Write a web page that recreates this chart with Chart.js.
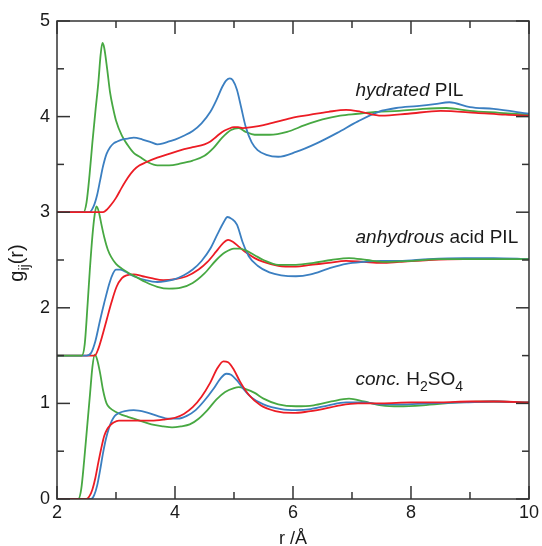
<!DOCTYPE html>
<html>
<head>
<meta charset="utf-8">
<script src="https://cdn.jsdelivr.net/npm/chart.js@4.4.0/dist/chart.umd.min.js"></script>
<style>
  html, body { margin: 0; padding: 0; background: #fff; }
  #wrap { width: 542px; height: 546px; }
</style>
</head>
<body>
<div id="wrap"><canvas id="chart" width="542" height="546"></canvas></div>
<script>
// g_ij(r); groups are plotted with their vertical offset (3, 1.5, 0)
var hydBlueR = [2.0, 2.55, 2.62, 2.68, 2.73, 2.78, 2.84, 2.9, 2.96, 3.02, 3.1, 3.2, 3.3, 3.45, 3.6, 3.7, 3.8, 3.9, 4.0, 4.15, 4.3, 4.45, 4.6, 4.7, 4.8, 4.87, 4.93, 4.98, 5.05, 5.12, 5.2, 5.3, 5.4, 5.55, 5.75, 6.05, 6.4, 6.75, 7.1, 7.45, 7.75, 8.1, 8.4, 8.65, 9.0, 9.4, 10.0];
var hydBlueG = [3.0, 3.0, 3.06, 3.18, 3.33, 3.48, 3.61, 3.68, 3.72, 3.74, 3.76, 3.77, 3.78, 3.76, 3.73, 3.71, 3.72, 3.74, 3.76, 3.80, 3.85, 3.93, 4.05, 4.17, 4.31, 4.38, 4.40, 4.38, 4.28, 4.10, 3.89, 3.73, 3.65, 3.60, 3.58, 3.63, 3.72, 3.83, 3.95, 4.05, 4.09, 4.11, 4.13, 4.15, 4.10, 4.08, 4.03];

var hydRedR = [2.0, 2.78, 2.85, 2.92, 3.0, 3.1, 3.2, 3.3, 3.4, 3.5, 3.7, 3.9, 4.1, 4.3, 4.5, 4.6, 4.7, 4.8, 4.9, 5.0, 5.07, 5.15, 5.3, 5.5, 5.75, 6.0, 6.3, 6.6, 6.9, 7.15, 7.5, 7.95, 8.5, 9.1, 9.6, 10.0];
var hydRedG = [3.0, 3.0, 3.03, 3.08, 3.15, 3.26, 3.36, 3.44, 3.49, 3.52, 3.57, 3.61, 3.65, 3.68, 3.71, 3.74, 3.79, 3.84, 3.87, 3.89, 3.89, 3.88, 3.89, 3.91, 3.95, 3.99, 4.02, 4.05, 4.07, 4.05, 4.01, 4.03, 4.06, 4.04, 4.02, 4.01];

var hydGreenR = [2.0, 2.45, 2.5, 2.55, 2.6, 2.65, 2.7, 2.74, 2.77, 2.8, 2.85, 2.9, 2.95, 3.0, 3.1, 3.2, 3.3, 3.4, 3.55, 3.7, 3.9, 4.1, 4.3, 4.5, 4.65, 4.8, 4.95, 5.08, 5.2, 5.35, 5.6, 5.9, 6.2, 6.5, 6.8, 7.1, 7.4, 7.8, 8.2, 8.6, 9.0, 9.5, 10.0];
var hydGreenG = [3.0, 3.0, 3.1, 3.38, 3.73, 4.05, 4.35, 4.65, 4.77, 4.72, 4.5, 4.25, 4.09, 3.96, 3.80, 3.70, 3.62, 3.58, 3.52, 3.49, 3.49, 3.51, 3.54, 3.59, 3.67, 3.78, 3.86, 3.88, 3.84, 3.81, 3.81, 3.84, 3.91, 3.97, 4.01, 4.03, 4.05, 4.06, 4.08, 4.09, 4.06, 4.04, 4.02];

var anhBlueR = [2.0, 2.5, 2.58, 2.65, 2.73, 2.8, 2.89, 2.95, 3.0, 3.07, 3.15, 3.3, 3.5, 3.7, 3.85, 4.0, 4.15, 4.3, 4.45, 4.6, 4.72, 4.82, 4.89, 4.96, 5.05, 5.15, 5.25, 5.4, 5.6, 5.8, 6.05, 6.3, 6.6, 6.9, 7.2, 7.5, 7.8, 8.3, 8.9, 9.4, 10.0];
var anhBlueG = [1.5, 1.5, 1.53, 1.65, 1.87, 2.05, 2.26, 2.36, 2.40, 2.40, 2.38, 2.33, 2.29, 2.27, 2.28, 2.30, 2.34, 2.40, 2.49, 2.62, 2.77, 2.89, 2.95, 2.93, 2.87, 2.68, 2.54, 2.44, 2.37, 2.34, 2.33, 2.35, 2.41, 2.46, 2.48, 2.49, 2.49, 2.51, 2.52, 2.52, 2.51];

var anhRedR = [2.0, 2.64, 2.7, 2.76, 2.84, 2.92, 3.01, 3.1, 3.18, 3.3, 3.45, 3.6, 3.8, 4.0, 4.2, 4.4, 4.55, 4.7, 4.82, 4.9, 4.98, 5.08, 5.2, 5.35, 5.5, 5.75, 6.05, 6.3, 6.6, 6.9, 7.2, 7.5, 7.8, 8.3, 8.9, 10.0];
var anhRedG = [1.5, 1.5, 1.57, 1.69, 1.87, 2.05, 2.22, 2.31, 2.34, 2.35, 2.33, 2.31, 2.29, 2.30, 2.33, 2.40, 2.48, 2.59, 2.68, 2.71, 2.69, 2.64, 2.58, 2.52, 2.48, 2.44, 2.43, 2.45, 2.47, 2.49, 2.48, 2.47, 2.48, 2.50, 2.51, 2.51];

var anhGreenR = [2.0, 2.42, 2.47, 2.52, 2.557, 2.6, 2.64, 2.67, 2.71, 2.75, 2.8, 2.86, 2.92, 3.0, 3.1, 3.2, 3.35, 3.5, 3.7, 3.9, 4.1, 4.3, 4.5, 4.7, 4.85, 5.0, 5.1, 5.2, 5.35, 5.5, 5.75, 6.05, 6.35, 6.65, 6.95, 7.25, 7.55, 8.0, 8.5, 9.0, 10.0];
var anhGreenG = [1.5, 1.5, 1.62, 2.05, 2.40, 2.75, 2.98, 3.06, 3.0, 2.88, 2.74, 2.61, 2.53, 2.46, 2.41, 2.37, 2.32, 2.27, 2.22, 2.20, 2.21, 2.26, 2.36, 2.50, 2.58, 2.62, 2.62, 2.60, 2.55, 2.50, 2.45, 2.45, 2.47, 2.50, 2.52, 2.50, 2.48, 2.49, 2.51, 2.51, 2.51];

var concBlueR = [2.0, 2.58, 2.63, 2.68, 2.73, 2.78, 2.83, 2.88, 2.93, 2.98, 3.05, 3.15, 3.3, 3.5, 3.7, 3.9, 4.05, 4.2, 4.35, 4.5, 4.65, 4.77, 4.87, 4.95, 5.05, 5.15, 5.3, 5.5, 5.8, 6.05, 6.3, 6.6, 6.9, 7.2, 7.5, 7.8, 8.3, 8.9, 9.4, 10.0];
var concBlueG = [0, 0, 0.04, 0.14, 0.30, 0.48, 0.63, 0.74, 0.82, 0.87, 0.90, 0.92, 0.93, 0.91, 0.87, 0.84, 0.84, 0.87, 0.93, 1.03, 1.15, 1.26, 1.31, 1.30, 1.24, 1.16, 1.06, 0.99, 0.94, 0.93, 0.94, 0.98, 1.01, 1.01, 0.99, 0.99, 1.0, 1.01, 1.02, 1.01];

var concRedR = [2.0, 2.5, 2.55, 2.6, 2.65, 2.7, 2.75, 2.8, 2.85, 2.9, 2.96, 3.05, 3.2, 3.4, 3.6, 3.8, 4.0, 4.15, 4.3, 4.45, 4.6, 4.72, 4.82, 4.9, 5.0, 5.1, 5.25, 5.45, 5.7, 6.0, 6.2, 6.5, 6.8, 7.1, 7.5, 8.0, 8.5, 9.0, 9.5, 10.0];
var concRedG = [0, 0, 0.03, 0.1, 0.22, 0.38, 0.53, 0.66, 0.73, 0.77, 0.80, 0.82, 0.82, 0.82, 0.82, 0.83, 0.85, 0.89, 0.96, 1.07, 1.22, 1.37, 1.44, 1.43, 1.35, 1.23, 1.09, 0.98, 0.92, 0.90, 0.91, 0.94, 0.98, 1.0, 1.0, 1.01, 1.01, 1.02, 1.02, 1.01];

var concGreenR = [2.0, 2.36, 2.41, 2.46, 2.51, 2.56, 2.6, 2.64, 2.68, 2.73, 2.78, 2.84, 2.9, 3.0, 3.1, 3.2, 3.4, 3.6, 3.8, 3.95, 4.1, 4.25, 4.4, 4.55, 4.7, 4.85, 5.0, 5.08, 5.2, 5.35, 5.5, 5.75, 6.05, 6.35, 6.65, 6.95, 7.2, 7.5, 7.8, 8.2, 8.8, 9.4, 10.0];
var concGreenG = [0, 0, 0.1, 0.4, 0.75, 1.1, 1.38, 1.51, 1.46, 1.32, 1.14, 1.0, 0.95, 0.91, 0.88, 0.86, 0.82, 0.78, 0.76, 0.75, 0.76, 0.78, 0.84, 0.93, 1.04, 1.12, 1.16, 1.17, 1.15, 1.11, 1.05, 0.99, 0.97, 0.98, 1.02, 1.05, 1.02, 0.98, 0.97, 0.98, 1.01, 1.02, 1.01];

var xMajorTicks = [2, 4, 6, 8, 10];
var xMinorTicks = [3, 5, 7, 9];
var yMajorTicks = [0, 1, 2, 3, 4, 5];
var yMinorTicks = [0.5, 1.5, 2.5, 3.5, 4.5];

(function(Chart) {
  'use strict';

  var FONT = '"Liberation Sans", Arial, Helvetica, sans-serif';
  var TEXT_COLOR = '#1a1a1a';
  var AXIS_COLOR = '#333333';
  var BLUE  = '#3b7fc1';
  var RED   = '#ec1c24';
  var GREEN = '#47a842';

  var styling = {
    plot: { left: 57, top: 21, right: 11, bottom: 47 },
    majorTick: 13,
    minorTick: 7,
    fontSize: 18,
    titleSize: 20,
    noteSize: 19
  };

  // annotation text, anchored in data coordinates
  var notes = [
    { r: 7.06, g: 4.215, parts: [['italic', 'hydrated'], ['normal', ' PIL']] },
    { r: 7.06, g: 2.68,  parts: [['italic', 'anhydrous'], ['normal', ' acid PIL']] },
    { r: 7.06, g: 1.19,  parts: [['italic', 'conc.'], ['normal', ' H'], ['sub', '2'], ['normal', 'SO'], ['sub', '4']] }
  ];

  function points(rs, gs) {
    return rs.map(function(r, i) { return { x: r, y: gs[i] }; });
  }

  function series(label, rs, gs, color) {
    return {
      label: label,
      data: points(rs, gs),
      borderColor: color,
      borderWidth: 1.8,
      pointRadius: 0,
      fill: false,
      cubicInterpolationMode: 'monotone'
    };
  }

  function setFont(ctx, p, size) {
    var sub = p[0] === 'sub';
    ctx.font = (p[0] === 'italic' ? 'italic ' : '') + (sub ? Math.round(size * 0.72) : size) + 'px ' + FONT;
    return sub;
  }

  function drawParts(ctx, x, y, parts, size) {
    parts.forEach(function(p) {
      var sub = setFont(ctx, p, size);
      ctx.fillText(p[1], x, sub ? y + size * 0.3 : y);
      x += ctx.measureText(p[1]).width;
    });
    return x;
  }

  function partsWidth(ctx, parts, size) {
    var w = 0;
    parts.forEach(function(p) {
      setFont(ctx, p, size);
      w += ctx.measureText(p[1]).width;
    });
    return w;
  }

  // closed frame with inward ticks on all four sides
  var frameTicks = {
    id: 'frameTicks',
    afterDraw: function(chart) {
      var ctx = chart.ctx, a = chart.chartArea;
      var xs = chart.scales.x, ys = chart.scales.y;

      function line(x1, y1, x2, y2) {
        ctx.beginPath();
        ctx.moveTo(x1, y1);
        ctx.lineTo(x2, y2);
        ctx.stroke();
      }

      ctx.save();
      ctx.strokeStyle = AXIS_COLOR;
      ctx.lineWidth = 1.5;
      ctx.strokeRect(a.left, a.top, a.right - a.left, a.bottom - a.top);

      [[xMajorTicks, styling.majorTick], [xMinorTicks, styling.minorTick]].forEach(function(set) {
        set[0].forEach(function(v) {
          var px = xs.getPixelForValue(v);
          line(px, a.bottom, px, a.bottom - set[1]);
          line(px, a.top, px, a.top + set[1]);
        });
      });
      [[yMajorTicks, styling.majorTick], [yMinorTicks, styling.minorTick]].forEach(function(set) {
        set[0].forEach(function(v) {
          var py = ys.getPixelForValue(v);
          line(a.left, py, a.left + set[1], py);
          line(a.right, py, a.right - set[1], py);
        });
      });
      ctx.restore();
    }
  };

  var annotations = {
    id: 'annotations',
    afterDraw: function(chart) {
      var ctx = chart.ctx, a = chart.chartArea;
      var xs = chart.scales.x, ys = chart.scales.y;

      ctx.save();
      ctx.fillStyle = TEXT_COLOR;
      ctx.textAlign = 'left';
      ctx.textBaseline = 'alphabetic';

      notes.forEach(function(n) {
        drawParts(ctx, xs.getPixelForValue(n.r), ys.getPixelForValue(n.g), n.parts, styling.noteSize);
      });

      // x title
      var xTitle = [['normal', 'r /\u00c5']];
      var w = partsWidth(ctx, xTitle, styling.fontSize);
      drawParts(ctx, (a.left + a.right) / 2 - w / 2, 544, xTitle, styling.fontSize);

      // y title, rotated
      var yTitle = [['normal', 'g'], ['sub', 'ij'], ['normal', '(r)']];
      w = partsWidth(ctx, yTitle, styling.titleSize);
      ctx.translate(23, (a.top + a.bottom) / 2 + 3);
      ctx.rotate(-Math.PI / 2);
      drawParts(ctx, -w / 2, 0, yTitle, styling.titleSize);
      ctx.restore();
    }
  };

  var tickFont = { family: FONT, size: styling.fontSize };

  new Chart(document.getElementById('chart'), {
    type: 'line',
    data: {
      datasets: [
        series('hydrated red', hydRedR, hydRedG, RED),
        series('hydrated blue', hydBlueR, hydBlueG, BLUE),
        series('hydrated green', hydGreenR, hydGreenG, GREEN),
        series('anhydrous green', anhGreenR, anhGreenG, GREEN),
        series('anhydrous blue', anhBlueR, anhBlueG, BLUE),
        series('anhydrous red', anhRedR, anhRedG, RED),
        series('conc red', concRedR, concRedG, RED),
        series('conc blue', concBlueR, concBlueG, BLUE),
        series('conc green', concGreenR, concGreenG, GREEN)
      ]
    },
    options: {
      responsive: false,
      animation: false,
      devicePixelRatio: 1,
      layout: {
        padding: { top: styling.plot.top, right: styling.plot.right, left: 0, bottom: 0 }
      },
      plugins: {
        legend: { display: false },
        tooltip: { enabled: false }
      },
      scales: {
        x: {
          type: 'linear',
          min: 2,
          max: 10,
          afterFit: function(scale) { scale.height = styling.plot.bottom; },
          grid: { display: false, drawTicks: false },
          border: { display: false },
          ticks: { stepSize: 2, padding: 3, color: TEXT_COLOR, font: tickFont, maxRotation: 0 }
        },
        y: {
          type: 'linear',
          min: 0,
          max: 5,
          afterFit: function(scale) { scale.width = styling.plot.left; },
          grid: { display: false, drawTicks: false },
          border: { display: false },
          ticks: { stepSize: 1, padding: 7, color: TEXT_COLOR, font: tickFont }
        }
      }
    },
    plugins: [frameTicks, annotations]
  });

}(Chart));
</script>
</body>
</html>
